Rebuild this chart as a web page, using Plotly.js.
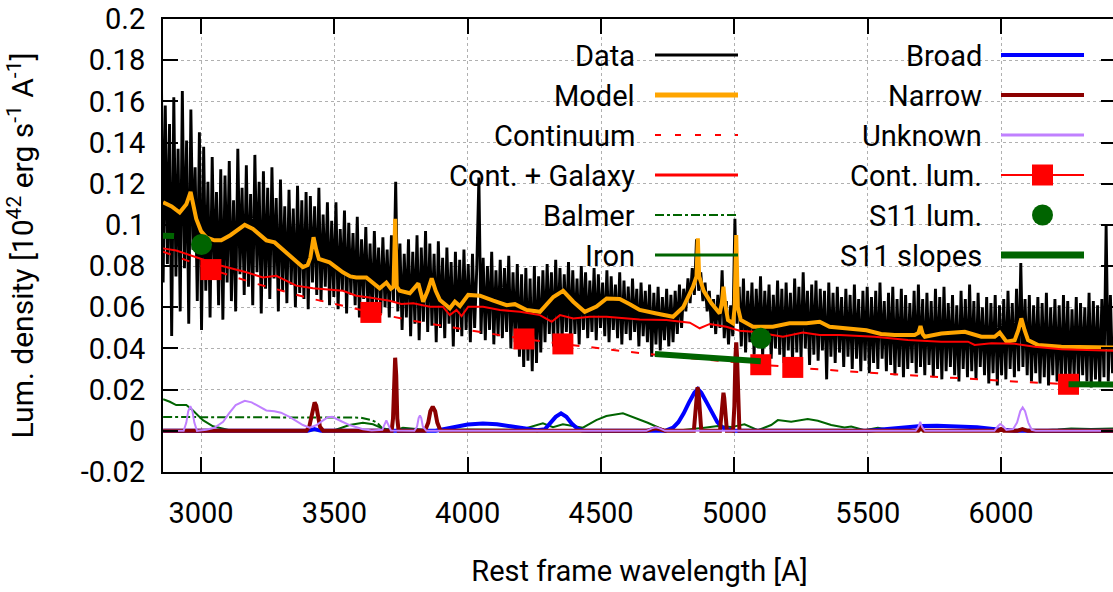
<!DOCTYPE html>
<html><head><meta charset="utf-8">
<script src="https://cdn.plot.ly/plotly-3.0.1.min.js"></script>
<style>html,body{margin:0;padding:0;overflow:hidden;background:#fff}#chart{width:1116px;height:592px}</style>
</head><body><div id="chart"></div><script>
// ---- Observed spectrum (8 A sampling starting at 2850 A) ----
const dataWaveStart = 2850, dataWaveStep = 8;
const dataFlux = [
0.197,0.072,0.158,0.081,0.149,0.046,0.162,0.075,0.137,0.058,
0.165,0.079,0.141,0.052,0.156,0.088,0.128,0.063,0.145,0.049,
0.138,0.068,0.121,0.055,0.133,0.074,0.116,0.061,0.127,0.054,
0.124,0.072,0.131,0.063,0.112,0.058,0.137,0.076,0.118,0.066,
0.129,0.07,0.115,0.061,0.134,0.077,0.121,0.057,0.126,0.069,
0.118,0.064,0.128,0.074,0.113,0.058,0.122,0.068,0.109,0.062,
0.117,0.071,0.108,0.06,0.119,0.067,0.112,0.064,0.116,0.059,
0.114,0.072,0.109,0.066,0.118,0.063,0.105,0.07,0.111,0.061,
0.102,0.065,0.111,0.059,0.098,0.068,0.107,0.057,0.101,0.066,
0.096,0.061,0.104,0.055,0.093,0.064,0.099,0.058,0.091,0.054,
0.097,0.062,0.089,0.057,0.094,0.06,0.088,0.055,0.095,0.063,
0.121,0.058,0.091,0.049,0.086,0.055,0.093,0.046,0.087,0.052,
0.095,0.044,0.089,0.053,0.097,0.048,0.091,0.051,0.086,0.043,
0.092,0.05,0.084,0.045,0.089,0.052,0.082,0.041,0.087,0.048,
0.083,0.046,0.088,0.049,0.081,0.043,0.086,0.05,0.079,0.123,
0.047,0.084,0.044,0.08,0.049,0.087,0.042,0.078,0.046,0.083,
0.045,0.079,0.048,0.085,0.04,0.077,0.043,0.081,0.036,0.076,
0.031,0.079,0.034,0.074,0.029,0.08,0.033,0.075,0.038,0.078,
0.043,0.081,0.047,0.077,0.041,0.083,0.046,0.079,0.044,0.076,
0.048,0.082,0.043,0.078,0.047,0.074,0.042,0.08,0.049,0.077,
0.045,0.073,0.048,0.079,0.044,0.076,0.05,0.072,0.046,0.078,
0.043,0.075,0.049,0.071,0.045,0.077,0.042,0.073,0.047,0.07,
0.044,0.074,0.048,0.069,0.041,0.072,0.046,0.068,0.043,0.071,
0.036,0.067,0.042,0.07,0.039,0.065,0.044,0.069,0.041,0.066,
0.043,0.068,0.047,0.071,0.05,0.069,0.058,0.074,0.062,0.079,
0.066,0.093,0.068,0.077,0.063,0.072,0.058,0.068,0.05,0.064,
0.047,0.066,0.05,0.078,0.045,0.063,0.042,0.061,0.046,0.103,
0.052,0.07,0.041,0.074,0.038,0.068,0.043,0.072,0.037,0.069,
0.041,0.075,0.036,0.068,0.042,0.071,0.035,0.066,0.04,0.073,
0.037,0.069,0.033,0.072,0.039,0.067,0.034,0.074,0.038,0.07,
0.035,0.077,0.04,0.068,0.032,0.071,0.037,0.073,0.034,0.069,
0.039,0.068,0.025,0.072,0.036,0.067,0.033,0.07,0.038,0.065,
0.031,0.069,0.036,0.066,0.03,0.071,0.035,0.064,0.029,0.068,
0.034,0.07,0.028,0.065,0.033,0.068,0.03,0.072,0.035,0.063,
0.029,0.067,0.032,0.07,0.027,0.064,0.031,0.069,0.026,0.066,
0.03,0.062,0.033,0.068,0.028,0.071,0.031,0.064,0.027,0.067,
0.032,0.063,0.026,0.069,0.03,0.065,0.025,0.07,0.029,0.062,
0.031,0.066,0.027,0.061,0.024,0.068,0.03,0.064,0.026,0.071,
0.029,0.063,0.025,0.067,0.031,0.06,0.027,0.065,0.023,0.062,
0.028,0.066,0.022,0.061,0.027,0.064,0.025,0.068,0.03,0.062,
0.026,0.069,0.029,0.0815,0.031,0.064,0.027,0.066,0.024,0.061,
0.028,0.065,0.023,0.062,0.026,0.067,0.022,0.06,0.027,0.064,
0.024,0.061,0.021,0.066,0.025,0.063,0.022,0.059,0.026,0.065,
0.023,0.062,0.027,0.06,0.024,0.067,0.021,0.063,0.025,0.061,
0.022,0.064,0.026,0.1,0.024,0.066,0.028];
const dataWave = dataFlux.map((_, i) => dataWaveStart + dataWaveStep * i);

// ---- Model ----
const modelWave = [2858,2890,2920,2945,2961,2972,2982,3000,3020,3050,3076,3110,3140,3164,3195,3225,3245,3276,3305,3332,3360,3382,3400,3410,3422,3432,3442,3482,3510,3532,3560,3582,3620,3650,3670,3695,3712,3722,3728,3734,3745,3783,3800,3815,3833,3850,3865,3880,3896,3933,3952,3971,4002,4046,4096,4146,4177,4221,4271,4321,4358,4396,4439,4483,4521,4570,4608,4645,4708,4770,4808,4845,4858,4863,4868,4885,4914,4945,4953,4959,4965,4976,4995,5001,5007,5013,5024,5070,5144,5207,5270,5320,5357,5420,5495,5550,5601,5676,5690,5698,5706,5714,5776,5864,5926,5976,5995,6020,6051,6065,6076,6088,6101,6139,6226,6431];
const modelFlux = [0.111,0.109,0.106,0.110,0.116,0.110,0.103,0.097,0.094,0.0925,0.0925,0.095,0.098,0.100,0.098,0.095,0.0925,0.0915,0.088,0.085,0.082,0.0795,0.0805,0.084,0.094,0.088,0.0835,0.0818,0.079,0.077,0.075,0.0745,0.0745,0.071,0.0692,0.072,0.069,0.070,0.103,0.070,0.068,0.0668,0.069,0.0716,0.0627,0.068,0.0741,0.068,0.0635,0.0595,0.0627,0.0606,0.066,0.0656,0.0632,0.061,0.0615,0.0587,0.0578,0.065,0.068,0.0627,0.0578,0.0603,0.0643,0.064,0.0615,0.0587,0.057,0.0554,0.060,0.070,0.075,0.0935,0.075,0.068,0.0619,0.057,0.062,0.070,0.062,0.0538,0.0522,0.060,0.0951,0.060,0.0538,0.0505,0.0505,0.0522,0.0522,0.053,0.0505,0.0498,0.0488,0.047,0.0465,0.0465,0.0475,0.0509,0.047,0.0457,0.0473,0.0481,0.0457,0.0457,0.0477,0.0433,0.044,0.049,0.0546,0.049,0.0441,0.0417,0.0408,0.0405];

// ---- Continuum (power law) ----
const contWave = [2858,2950,3037,3200,3400,3637,3800,4000,4211,4357,4600,4800,5099,5219,5400,5600,5800,6000,6253,6431];
const contFlux = [0.087,0.0824,0.0784,0.0717,0.0646,0.0576,0.0533,0.049,0.0446,0.0422,0.0384,0.0357,0.0321,0.0308,0.0291,0.0274,0.0258,0.0243,0.0226,0.0216];

// ---- Continuum + Galaxy ----
const contGalWave = [2858,2907,2982,3076,3170,3232,3282,3357,3420,3532,3582,3632,3707,3751,3796,3858,3907,3933,3958,3977,4002,4058,4121,4196,4271,4315,4346,4396,4458,4521,4645,4745,4833,4870,4908,4970,5020,5070,5144,5182,5257,5320,5395,5526,5651,5776,5876,5901,5964,6051,6126,6226,6431];
const contGalFlux = [0.0886,0.0876,0.0843,0.0802,0.077,0.0745,0.0753,0.0705,0.0692,0.068,0.0656,0.0648,0.0632,0.0616,0.062,0.0603,0.0603,0.0562,0.0587,0.0557,0.0603,0.0603,0.0587,0.0578,0.0562,0.053,0.0562,0.0546,0.0554,0.0554,0.0541,0.0538,0.0525,0.0498,0.0519,0.0505,0.0486,0.0481,0.0465,0.0457,0.0477,0.0465,0.0465,0.0457,0.0441,0.0433,0.0433,0.0417,0.0425,0.0423,0.0408,0.0396,0.0388];

// ---- Balmer continuum ----
const balmerWave = [2858,3560,3600,3640,3660,3680,3700,3720];
const balmerFlux = [0.0067,0.0067,0.0064,0.0052,0.004,0.0012,0,0];

// ---- Iron ----
const ironWave = [2858,2883,2907,2945,2970,3007,3045,3107,3500,3557,3607,3645,3682,3730,3757,3807,3857,4000,4200,4282,4320,4357,4432,4482,4520,4582,4632,4675,4738,4790,4888,4938,4988,5038,5088,5138,5163,5213,5275,5313,5363,5413,5438,5488,5538,5588,6038,6138,6213,6263,6338,6431];
const ironFlux = [0.0153,0.0141,0.0125,0.0125,0.0099,0.0052,0.0022,0.0003,0.0003,0.0028,0.0039,0.0032,0.0011,0.0003,0.0015,0.001,0.0003,0.0006,0.0005,0.0036,0.0018,0.0032,0.0015,0.0052,0.0072,0.0085,0.006,0.0039,0.0003,0.0002,0.0015,0.0023,0.0018,0.0032,0.0003,0.0028,0.0052,0.0044,0.0057,0.0049,0.0028,0.0016,0.0021,0.0003,0.0015,0.0003,0.0003,0.0001,0.0006,0.0011,0.0009,0.0011];

// ---- Broad lines ----
const broadWave = [2858,3400,3425,3450,3880,3920,3960,4000,4057,4110,4160,4210,4260,4290,4310,4330,4350,4370,4390,4410,4430,4450,4740,4770,4790,4810,4830,4850,4863,4876,4896,4916,4936,4956,4985,5000,5500,5560,5620,5700,5760,5830,5910,5970,6020,6050,6431];
const broadFlux = [0,0,0.0008,0,0,0.001,0.0022,0.0031,0.0036,0.0032,0.0022,0.0011,0.0003,0.0008,0.0035,0.0068,0.0085,0.0068,0.0035,0.0012,0.0002,0,0,0.0015,0.0042,0.0085,0.0138,0.0185,0.0203,0.0185,0.0138,0.0085,0.0042,0.0015,0.0002,0,0,0.0008,0.0017,0.0023,0.0025,0.0023,0.0017,0.0009,0.0002,0,0];

// ---- Narrow lines ----
const narrowWave = [2858,3395,3406,3414,3420,3426,3432,3438,3446,3458,3715,3720,3724,3728,3732,3736,3741,3840,3852,3860,3869,3878,3886,3898,4670,4690,4705,4720,4740,4848,4854,4858,4862,4866,4870,4876,4946,4952,4956,4959,4962,4966,4972,4995,5000,5004,5007,5010,5014,5019,5690,5700,5710,5990,6000,6010,6060,6080,6100,6431];
const narrowFlux = [0,0,0.002,0.0075,0.0122,0.0138,0.0122,0.0075,0.002,0,0,0.006,0.027,0.0355,0.027,0.006,0,0,0.004,0.0095,0.0117,0.0095,0.004,0,0,0.0008,0.0012,0.0008,0,0,0.008,0.018,0.0212,0.018,0.008,0,0,0.007,0.016,0.0185,0.016,0.007,0,0,0.012,0.036,0.043,0.036,0.012,0,0,0.0015,0,0,0.0008,0,0,0.0008,0,0];

// ---- Unknown lines ----
const unknownWave = [2858,2935,2945,2952,2960,2968,2975,2985,3020,3050,3083,3105,3130,3164,3190,3215,3245,3275,3300,3332,3360,3382,3407,3432,3455,3476,3492,3507,3530,3557,3585,3607,3640,3680,3688,3695,3702,3712,3800,3810,3816,3821,3826,3832,3845,4670,4690,4705,4720,4740,5680,5690,5697,5704,5715,5975,5988,5997,6008,6020,6045,6060,6072,6081,6090,6102,6115,6130,6431];
const unknownFlux = [0,0,0.004,0.0095,0.012,0.0095,0.004,0,0.0005,0.0015,0.0044,0.0085,0.0125,0.0146,0.0138,0.012,0.0099,0.0095,0.0088,0.0068,0.0045,0.0028,0.0015,0.0027,0.0048,0.0066,0.0068,0.006,0.0044,0.0028,0.0015,0.0008,0.0002,0.0005,0.003,0.005,0.003,0.0002,0,0.002,0.0062,0.0074,0.0062,0.002,0,0,0.0012,0.0017,0.0012,0,0,0.0018,0.0044,0.0018,0,0,0.0022,0.0033,0.0022,0.0004,0.0008,0.004,0.0095,0.0114,0.0095,0.004,0.0005,0,0];

// ---- Continuum luminosities, S11 values ----
const contLumWave = [3037,3637,4211,4357,5099,5219,6253];
const contLumFlux = [0.0783,0.0575,0.0446,0.0422,0.0321,0.0308,0.0226];
const s11LumWave = [3002,5099];
const s11LumFlux = [0.0905,0.0449];
const s11SlopeWave = [2800,2899,null,4702,5099,null,6253,6440];
const s11SlopeFlux = [0.0950,0.0946,null,0.0373,0.0338,null,0.0226,0.0225];

const xTickVals = [3000,3500,4000,4500,5000,5500,6000];
const xTickText = ['3000','3500','4000','4500','5000','5500','6000'];
const yTickVals = [-0.02,0,0.02,0.04,0.06,0.08,0.1,0.12,0.14,0.16,0.18,0.2];
const yTickText = ['-0.02','0','0.02','0.04','0.06','0.08','0.1','0.12','0.14','0.16','0.18','0.2'];

const legendCol1 = ['Data','Model','Continuum','Cont. + Galaxy','Balmer','Iron'];
const legendCol2 = ['Broad','Narrow','Unknown','Cont. lum.','S11 lum.','S11 slopes'];
const yTitle = 'Lum. density [10<sup>42</sup> erg s<sup>-1</sup> A<sup>-1</sup>]';
const xTitle = 'Rest frame wavelength [A]';

const C = {orange:'#ffa500', red:'#ff0000', green:'#006400', blue:'#0000ff', dred:'#8b0000', purple:'#c080ff'};
const FONT = 'Roboto, "Open Sans", sans-serif';
const FS = 29;

const traces = [
  {x:dataWave, y:dataFlux, mode:'lines', line:{color:'#000', width:2.9}},
  {x:modelWave, y:modelFlux, mode:'lines', line:{color:C.orange, width:4}},
  {x:contWave, y:contFlux, mode:'lines', line:{color:C.red, width:2, dash:'8px,12px'}},
  {x:contGalWave, y:contGalFlux, mode:'lines', line:{color:C.red, width:2}},
  {x:balmerWave, y:balmerFlux, mode:'lines', line:{color:C.green, width:2, dash:'dashdot'}},
  {x:ironWave, y:ironFlux, mode:'lines', line:{color:C.green, width:2}},
  {x:broadWave, y:broadFlux, mode:'lines', line:{color:C.blue, width:4}},
  {x:narrowWave, y:narrowFlux, mode:'lines', line:{color:C.dred, width:4}},
  {x:unknownWave, y:unknownFlux, mode:'lines', line:{color:C.purple, width:2}},
  {x:contLumWave, y:contLumFlux, mode:'markers', marker:{symbol:'square', size:21, color:C.red}},
  {x:s11LumWave, y:s11LumFlux, mode:'markers', marker:{symbol:'circle', size:21, color:C.green}},
  {x:s11SlopeWave, y:s11SlopeFlux, mode:'lines', connectgaps:false, line:{color:C.green, width:6}}
];

// ---- manual gnuplot-style key ----
const W = 953, H = 453, L = 163, T = 19;
const px = p => (p - L) / W, py = p => (T + H - p) / H;
const rowY = [55,95,135,175,215,255];
const annotations = [], shapes = [];
const col1Style = [
  {color:'#000', width:3}, {color:C.orange, width:5}, {color:C.red, width:2, dash:'6px,14px'},
  {color:C.red, width:3}, {color:C.green, width:2, dash:'dashdot'}, {color:C.green, width:3}];
const col2Style = [
  {color:C.blue, width:4}, {color:C.dred, width:4}, {color:C.purple, width:3},
  {color:C.red, width:2}, null, {color:C.green, width:7}];
legendCol1.forEach((t, i) => {
  annotations.push({text:t, xref:'paper', yref:'paper', x:px(637), y:py(rowY[i]+1), xanchor:'right', yanchor:'middle', showarrow:false, font:{family:FONT, size:FS, color:'#000'}});
  shapes.push({type:'line', xref:'paper', yref:'paper', x0:px(655), x1:px(738), y0:py(rowY[i]), y1:py(rowY[i]), line:col1Style[i]});
});
legendCol2.forEach((t, i) => {
  annotations.push({text:t, xref:'paper', yref:'paper', x:px(984), y:py(rowY[i]+1), xanchor:'right', yanchor:'middle', showarrow:false, font:{family:FONT, size:FS, color:'#000'}});
  if (col2Style[i]) shapes.push({type:'line', xref:'paper', yref:'paper', x0:px(1001), x1:px(1084), y0:py(rowY[i]), y1:py(rowY[i]), line:col2Style[i]});
});
shapes.push({type:'rect', xref:'paper', yref:'paper', x0:px(1032), x1:px(1053), y0:py(rowY[3]+10.5), y1:py(rowY[3]-10.5), fillcolor:C.red, line:{width:0}});
shapes.push({type:'circle', xref:'paper', yref:'paper', x0:px(1032), x1:px(1053), y0:py(rowY[4]+10.5), y1:py(rowY[4]-10.5), fillcolor:C.green, line:{width:0}});

const axisCommon = {
  showline:true, linecolor:'#000', linewidth:2, mirror:'ticks',
  ticks:'inside', ticklen:15, tickwidth:2, tickcolor:'#000',
  showgrid:true, gridcolor:'#b0b0b0', gridwidth:1, griddash:'dot',
  zeroline:false, tickfont:{family:FONT, size:FS, color:'#000'}, automargin:false
};

const layout = {
  width:1116, height:592,
  margin:{l:163, r:0, t:19, b:120},
  paper_bgcolor:'#fff', plot_bgcolor:'#fff',
  showlegend:false,
  font:{family:FONT, color:'#000'},
  xaxis:Object.assign({}, axisCommon, {
    range:[2857.5, 6431], tickmode:'array', tickvals:xTickVals, ticktext:xTickText,
    ticklabelstandoff:14,
    title:{text:xTitle, font:{family:FONT, size:FS, color:'#000'}, standoff:32}
  }),
  yaxis:Object.assign({}, axisCommon, {
    range:[-0.02, 0.2], tickmode:'array', tickvals:yTickVals, ticktext:yTickText,
    ticklabelstandoff:10,
    title:{text:yTitle, font:{family:FONT, size:30, color:'#000'}, standoff:38}
  }),
  annotations:annotations, shapes:shapes
};

Plotly.newPlot('chart', traces, layout, {staticPlot:true, displayModeBar:false});
</script></body></html>
